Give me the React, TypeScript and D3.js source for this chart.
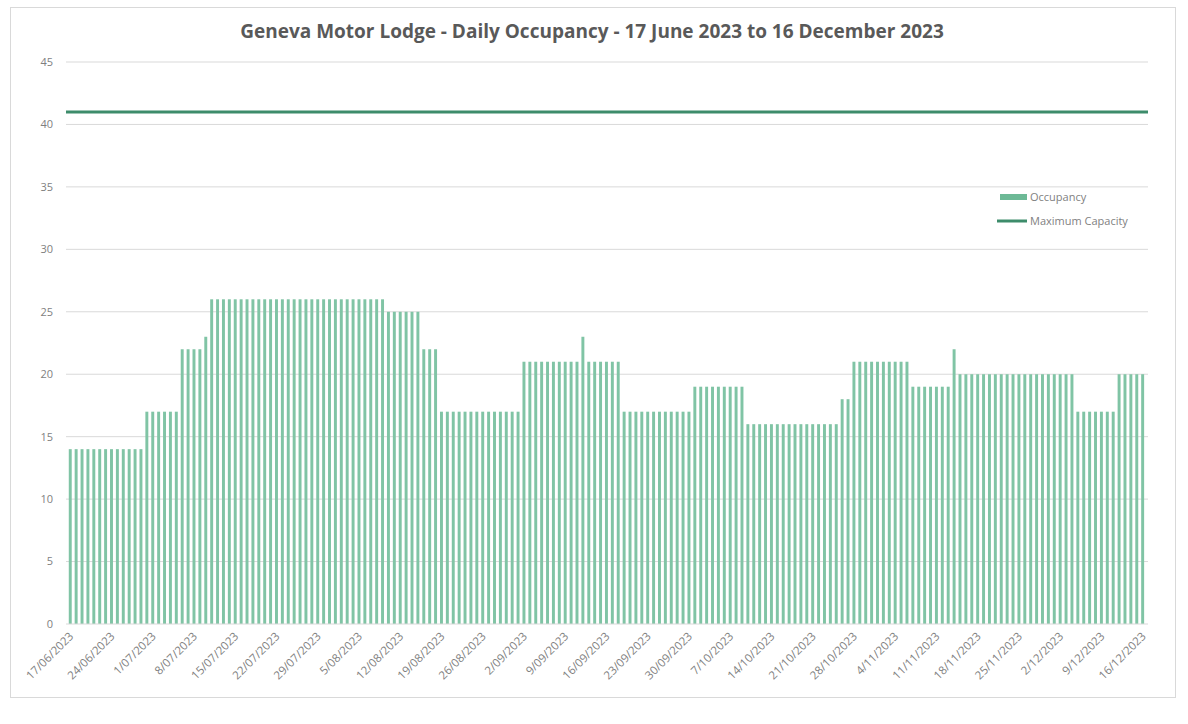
import React from 'react';
import * as d3 from 'd3';

// daily occupancy, 17/06/2023 .. 16/12/2023 (183 days)
const occupancy: number[] = [
  14, 14, 14, 14, 14, 14, 14, 14, 14, 14, 14, 14, 14,
  17, 17, 17, 17, 17, 17,
  22, 22, 22, 22,
  23,
  26, 26, 26, 26, 26, 26, 26, 26, 26, 26, 26, 26, 26, 26, 26,
  26, 26, 26, 26, 26, 26, 26, 26, 26, 26, 26, 26, 26, 26, 26,
  25, 25, 25, 25, 25, 25,
  22, 22, 22,
  17, 17, 17, 17, 17, 17, 17, 17, 17, 17, 17, 17, 17, 17,
  21, 21, 21, 21, 21, 21, 21, 21, 21, 21,
  23,
  21, 21, 21, 21, 21, 21,
  17, 17, 17, 17, 17, 17, 17, 17, 17, 17, 17, 17,
  19, 19, 19, 19, 19, 19, 19, 19, 19,
  16, 16, 16, 16, 16, 16, 16, 16, 16, 16, 16, 16, 16, 16, 16, 16,
  18, 18,
  21, 21, 21, 21, 21, 21, 21, 21, 21, 21,
  19, 19, 19, 19, 19, 19, 19,
  22,
  20, 20, 20, 20, 20, 20, 20, 20, 20, 20, 20, 20, 20, 20, 20, 20, 20, 20, 20, 20,
  17, 17, 17, 17, 17, 17, 17,
  20, 20, 20, 20, 20,
];

const maxCapacity = 41;

const dates: Date[] = d3.timeDay.range(new Date(2023, 5, 17), new Date(2023, 11, 17));

const tickLabels: string[] = [
  '17/06/2023', '24/06/2023', '1/07/2023', '8/07/2023', '15/07/2023', '22/07/2023',
  '29/07/2023', '5/08/2023', '12/08/2023', '19/08/2023', '26/08/2023', '2/09/2023',
  '9/09/2023', '16/09/2023', '23/09/2023', '30/09/2023', '7/10/2023', '14/10/2023',
  '21/10/2023', '28/10/2023', '4/11/2023', '11/11/2023', '18/11/2023', '25/11/2023',
  '2/12/2023', '9/12/2023', '16/12/2023',
];

const yTicks: number[] = [0, 5, 10, 15, 20, 25, 30, 35, 40, 45];

const fmt = d3.timeFormat('%-d/%m/%Y');

const App = () => {
  document.body.style.margin = '0';

  const width = 1188;
  const height = 724;
  const font = "'Open Sans', sans-serif";
  const grey = '#595959';

  const x = d3.scaleBand<string>()
    .domain(dates.map(d => fmt(d)))
    .range([67.3, 1145.6])
    .paddingInner(0.5)
    .paddingOuter(0.25);

  const y = d3.scaleLinear().domain([0, 45]).range([624, 62]);

  const plotLeft = 66;
  const plotRight = 1148;

  return (
    <svg width={width} height={height} style={{ display: 'block' }} fontFamily={font}>
      <rect x={10.5} y={7.5} width={1165} height={690} fill="#fff" stroke="#d9d9d9" />

      <text x={592} y={38} textAnchor="middle" fontSize={19} fontWeight="bold" fill={grey}>
        Geneva Motor Lodge - Daily Occupancy - 17 June 2023 to 16 December 2023
      </text>

      {/* gridlines + y labels */}
      {yTicks.map(t => (
        <g key={t}>
          {t > 0 && (
            <line x1={plotLeft} x2={plotRight} y1={y(t)} y2={y(t)} stroke="#d9d9d9" strokeWidth={1} />
          )}
          <text x={53} y={y(t)} dy="0.35em" textAnchor="end" fontSize={11} fill="#7f7f7f">{t}</text>
        </g>
      ))}

      {/* bars */}
      <g fill="#80c4a5">
        {occupancy.map((v, i) => (
          <rect key={i} x={x(fmt(dates[i]))} y={y(v)} width={x.bandwidth()} height={y(0) - y(v)} />
        ))}
      </g>

      {/* x axis line */}
      <line x1={plotLeft} x2={plotRight} y1={y(0)} y2={y(0)} stroke="#d9d9d9" />

      {/* capacity line */}
      <line x1={plotLeft} x2={plotRight} y1={y(maxCapacity)} y2={y(maxCapacity)}
        stroke="#3d8c6b" strokeWidth={3} />

      {/* x tick labels */}
      {tickLabels.map(l => {
        const cx = (x(l) ?? 0) + x.bandwidth() / 2;
        return (
          <text key={l} transform={`translate(${cx + 4},${y(0) + 13}) rotate(-45)`}
            textAnchor="end" fontSize={11.5} fill="#7f7f7f">{l}</text>
        );
      })}

      {/* legend */}
      <rect x={1000} y={194} width={27} height={6} fill="#6db996" />
      <text x={1030} y={197} dy="0.35em" fontSize={11} fill="#7f7f7f">Occupancy</text>
      <line x1={997} x2={1027} y1={221} y2={221} stroke="#3d8c6b" strokeWidth={3} />
      <text x={1030} y={221} dy="0.35em" fontSize={11} fill="#7f7f7f">Maximum Capacity</text>
    </svg>
  );
};

export default App;
